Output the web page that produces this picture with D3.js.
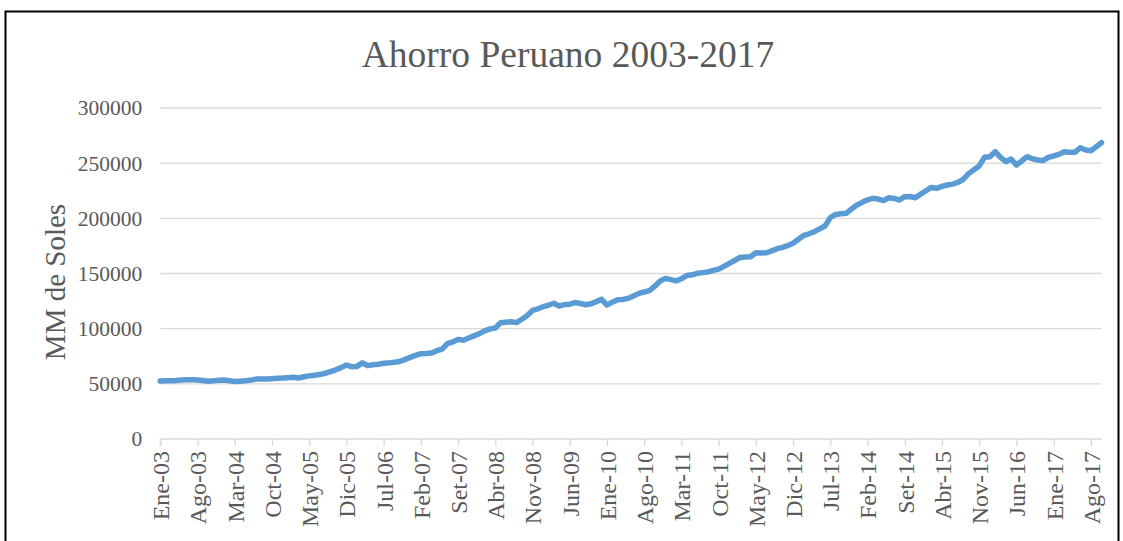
<!DOCTYPE html>
<html>
<head>
<meta charset="utf-8">
<script src="https://cdn.jsdelivr.net/npm/d3@7"></script>
<style>
  body { margin: 0; background: #fff; }
  text { font-family: "Liberation Serif", "Times New Roman", serif; fill: #595959; }
</style>
</head>
<body>
<svg id="chart" width="1123" height="541"></svg>
<script>
const SVG = d3.select('#chart');
const WIDTH = 1123;
const HEIGHT = 541;
const PLOT_LEFT = 160.3;
const PLOT_RIGHT = 1101.5;
const PLOT_TOP = 108;
const PLOT_BOTTOM = 439;
const LINE_COLOR = '#5b9bd5';
const GRID_COLOR = '#d9d9d9';

// DATA
const MONTHS = ['Ene', 'Feb', 'Mar', 'Abr', 'May', 'Jun', 'Jul', 'Ago', 'Set', 'Oct', 'Nov', 'Dic'];
const YEARS = ['03', '04', '05', '06', '07', '08', '09', '10', '11', '12', '13', '14', '15', '16', '17'];
const Y_TICKS = [0, 50000, 100000, 150000, 200000, 250000, 300000];

// ahorro mensual, MM de soles
const ahorro2003 = [52500, 52700, 52800, 53000, 53400, 53600, 53700, 53500, 53000, 52400, 52700, 53200];
const ahorro2004 = [53500, 52800, 52200, 52400, 52700, 53400, 54300, 54400, 54300, 54600, 55000, 55200];
const ahorro2005 = [55600, 55900, 55300, 56400, 57200, 57800, 58400, 59600, 61000, 62700, 64700, 67000];
const ahorro2006 = [65500, 65800, 69000, 66500, 67300, 67800, 68600, 69000, 69500, 70200, 72000, 74000];
const ahorro2007 = [75800, 77300, 77500, 78000, 80000, 81500, 86500, 88000, 90300, 89500, 91500, 93500];
const ahorro2008 = [95500, 98000, 99800, 100600, 105400, 105800, 106300, 105500, 108500, 112000, 116500, 118000];
const ahorro2009 = [119900, 121200, 123000, 120500, 121800, 122200, 123700, 122800, 121700, 122600, 124500, 126600];
const ahorro2010 = [121400, 124000, 126300, 126500, 127500, 129600, 132000, 133200, 134500, 138500, 143200, 145600];
const ahorro2011 = [144500, 143300, 145200, 148200, 148800, 150200, 150800, 151400, 152800, 154000, 156500, 159200];
const ahorro2012 = [161800, 164500, 165000, 165200, 168800, 168600, 168800, 170500, 172500, 173700, 175300, 177400];
const ahorro2013 = [181000, 184500, 186000, 187900, 190500, 193000, 200600, 203500, 204200, 204500, 208500, 212000];
const ahorro2014 = [214500, 216800, 218100, 217500, 216000, 218700, 218000, 216600, 219600, 219800, 218700, 222000];
const ahorro2015 = [225000, 228000, 227200, 229000, 230200, 231000, 232500, 235400, 240500, 244000, 247500, 255300];
const ahorro2016 = [255900, 260400, 255300, 251300, 253800, 248300, 252000, 255900, 254000, 252900, 252300, 255300];
const ahorro2017 = [256500, 258000, 260400, 259800, 259800, 264000, 262000, 261300, 264900, 268500];

const values = [].concat(
  ahorro2003, ahorro2004, ahorro2005, ahorro2006, ahorro2007, ahorro2008, ahorro2009, ahorro2010,
  ahorro2011, ahorro2012, ahorro2013, ahorro2014, ahorro2015, ahorro2016, ahorro2017
);

const categories = [];
YEARS.forEach(y => MONTHS.forEach(m => categories.push(`${m}-${y}`)));
const data = values.map((v, i) => ({ label: categories[i], value: v }));
const tickLabels = data.map(d => d.label).filter((d, i) => i % 7 === 0);

// SCALES
const x = d3.scalePoint()
  .domain(data.map(d => d.label))
  .range([PLOT_LEFT, PLOT_RIGHT]);

const y = d3.scaleLinear()
  .domain([0, 300000])
  .range([PLOT_BOTTOM, PLOT_TOP]);

// frame
SVG.append('rect')
  .attr('x', 5.5)
  .attr('y', 11.5)
  .attr('width', 1113)
  .attr('height', 540)
  .attr('fill', 'none')
  .attr('stroke', '#000')
  .attr('stroke-width', 2);

// title
SVG.append('text')
  .attr('x', 568)
  .attr('y', 67)
  .attr('text-anchor', 'middle')
  .style('font-size', '37.5px')
  .text('Ahorro Peruano 2003-2017');

// gridlines
SVG.append('g')
  .selectAll('line')
  .data(Y_TICKS.filter(d => d > 0))
  .join('line')
  .attr('x1', PLOT_LEFT)
  .attr('x2', PLOT_RIGHT)
  .attr('y1', d => y(d))
  .attr('y2', d => y(d))
  .attr('stroke', GRID_COLOR)
  .attr('stroke-width', 1.3);

// y axis labels
const yAxis = d3.axisLeft(y)
  .tickValues(Y_TICKS)
  .tickSize(0)
  .tickPadding(18)
  .tickFormat(d3.format('d'));

SVG.append('g')
  .attr('transform', `translate(${PLOT_LEFT},0)`)
  .call(yAxis)
  .call(g => g.select('.domain').remove())
  .call(g => g.selectAll('text')
    .style('font-family', '"Liberation Serif", serif')
    .style('font-size', '21.5px')
    .attr('fill', '#595959'));

// x axis
const xAxis = d3.axisBottom(x)
  .tickValues(tickLabels)
  .tickSize(7)
  .tickPadding(8);

SVG.append('g')
  .attr('transform', `translate(0,${PLOT_BOTTOM})`)
  .call(xAxis)
  .call(g => g.select('.domain')
    .attr('stroke', GRID_COLOR)
    .attr('stroke-width', 1.3)
    .attr('d', `M${PLOT_LEFT},7V0H${PLOT_RIGHT}`))
  .call(g => g.selectAll('.tick line')
    .attr('stroke', GRID_COLOR)
    .attr('stroke-width', 1.3))
  .call(g => g.selectAll('text')
    .style('font-family', '"Liberation Serif", serif')
    .style('font-size', '24px')
    .attr('fill', '#595959')
    .attr('text-anchor', 'end')
    .attr('transform', 'rotate(-90)')
    .attr('x', -12)
    .attr('y', 0)
    .attr('dy', '0.35em'));

// y axis title
SVG.append('text')
  .attr('transform', `translate(65,282) rotate(-90)`)
  .attr('text-anchor', 'middle')
  .style('font-size', '29px')
  .text('MM de Soles');

// line
const line = d3.line()
  .x(d => x(d.label))
  .y(d => y(d.value));

SVG.append('path')
  .datum(data)
  .attr('d', line)
  .attr('fill', 'none')
  .attr('stroke', LINE_COLOR)
  .attr('stroke-width', 5.5)
  .attr('stroke-linejoin', 'round')
  .attr('stroke-linecap', 'round');
</script>
</body>
</html>
